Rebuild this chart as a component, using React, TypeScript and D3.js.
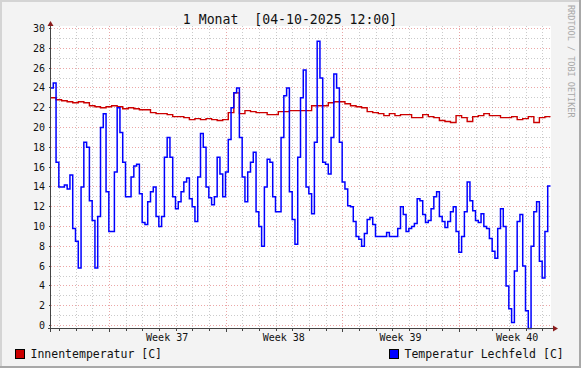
import { useEffect, useRef } from "react";
import {
  select,
  scaleLinear,
  scaleUtc,
  line as d3line,
  curveStepAfter,
  range,
  utcDay,
  utcMonday,
} from "d3";

const HOUR = 3600e3;
const START = Date.UTC(2025, 8, 4, 12);
const END = Date.UTC(2025, 9, 4, 12);

const TITLE = "1 Monat  [04-10-2025 12:00]";
const SIDE_TEXT = "RRDTOOL / TOBI OETIKER";
const weekLabels = ["Week 37", "Week 38", "Week 39", "Week 40"];
const yTicks = range(0, 31, 2);
const seriesNames = ["Innentemperatur [C]", "Temperatur Lechfeld [C]"];
const seriesColors = ["#cc0000", "#0000ff"];

// Innentemperatur, 8h steps from 04-09 12:00
const innenTemp = [
  23.0, 22.8, 22.7, 22.6, 22.5, 22.6, 22.5, 22.2, 22.1, 22.0,
  22.1, 22.2, 22.1, 21.9, 22.0, 21.9, 21.8, 21.8, 21.5, 21.4,
  21.4, 21.3, 21.1, 21.1, 21.0, 20.8, 20.9, 20.8, 20.9, 20.8,
  20.7, 20.8, 21.5, 23.5, 21.4, 21.7, 21.6, 21.5, 21.5, 21.3,
  21.3, 21.6, 21.6, 21.7, 21.7, 21.7, 21.7, 22.2, 22.2, 22.2,
  22.5, 22.6, 22.6, 22.4, 22.2, 22.1, 22.0, 21.6, 21.5, 21.4,
  21.2, 21.4, 21.2, 21.3, 21.3, 21.0, 21.0, 21.3, 21.1, 21.0,
  20.7, 20.6, 20.5, 21.2, 21.0, 20.6, 21.1, 21.2, 21.4, 21.2,
  21.2, 21.0, 21.0, 21.1, 20.8, 20.9, 21.1, 20.5, 21.0, 21.1,
];

// Temperatur Lechfeld, 4h steps from 04-09 12:00
const lechfeldTemp = [
  24.0, 24.5, 16.5, 14.0, 14.0, 14.2, 13.8, 15.2, 9.8, 8.5,
  5.8, 14.0, 18.5, 18.0, 12.6, 10.6, 5.8, 11.0, 20.0, 21.4,
  13.5, 9.5, 9.5, 15.5, 22.0, 19.5, 16.5, 13.0, 13.0, 15.0,
  16.1, 16.3, 13.3, 10.4, 10.2, 12.5, 13.5, 14.0, 11.0, 10.0,
  11.0, 17.0, 19.0, 17.0, 13.0, 11.8, 12.5, 13.5, 14.5, 14.9,
  12.8, 12.0, 10.5, 15.0, 19.4, 18.0, 14.0, 12.9, 12.2, 13.0,
  17.0, 15.3, 13.0, 15.5, 18.8, 22.0, 23.5, 24.0, 19.0, 15.0,
  12.5, 15.5, 16.5, 17.5, 11.5, 10.0, 8.0, 14.0, 16.8, 16.5,
  13.0, 11.5, 11.5, 19.0, 23.2, 24.0, 13.5, 10.7, 8.2, 17.0,
  23.0, 25.8, 14.0, 13.3, 11.3, 18.5, 28.7, 25.0, 16.5, 16.3,
  15.3, 19.0, 25.4, 24.0, 18.5, 14.5, 13.8, 12.1, 12.0, 10.5,
  9.0, 8.7, 8.0, 9.3, 10.7, 10.9, 10.2, 9.0, 9.0, 9.0,
  9.0, 9.4, 9.0, 9.0, 9.0, 9.8, 12.0, 11.2, 9.5, 9.8,
  10.0, 10.3, 12.8, 12.6, 11.2, 10.4, 10.6, 11.8, 13.0, 13.5,
  11.0, 10.5, 9.9, 10.5, 11.5, 12.0, 9.5, 7.4, 9.0, 11.5,
  14.5, 12.6, 11.6, 10.6, 10.4, 11.3, 10.0, 9.8, 8.8, 7.5,
  6.8, 9.8, 11.8, 10.0, 4.0, 1.7, 0.3, 5.5, 10.5, 11.2,
  6.0, 1.5, -0.3, 8.0, 11.5, 12.5, 6.5, 4.8, 9.5, 14.1,
];

const W = 581;
const H = 368;
const MONO = "'DejaVu Sans Mono', monospace";

function toSteps(values: number[], stepHours: number): [number, number][] {
  const pts: [number, number][] = values.map((v, i) => [
    START + i * stepHours * HOUR,
    v,
  ]);
  pts.push([END, values[values.length - 1]]);
  return pts;
}

export default function App() {
  const svgRef = useRef<SVGSVGElement>(null);

  useEffect(() => {
    const svg = select(svgRef.current);
    svg.selectAll("*").remove();

    const x = scaleUtc()
      .domain([new Date(START), new Date(END)])
      .range([50.5, 550.5]);
    const y = scaleLinear().domain([0, 30]).range([325.5, 28.5]);
    const canvasTop = 26;
    const axisY = 328.5;
    const left = 50.5;
    const right = 551;

    // background + shading frame
    svg.append("rect").attr("width", W).attr("height", H).attr("fill", "#f3f3f3");
    svg.append("rect").attr("x", 0).attr("y", 0).attr("width", W).attr("height", 2).attr("fill", "#d4d4d4");
    svg.append("rect").attr("x", 0).attr("y", 0).attr("width", 2).attr("height", H).attr("fill", "#d4d4d4");
    svg.append("rect").attr("x", 0).attr("y", H - 2).attr("width", W).attr("height", 2).attr("fill", "#a8a8a8");
    svg.append("rect").attr("x", W - 2).attr("y", 0).attr("width", 2).attr("height", H).attr("fill", "#a8a8a8");

    // canvas
    svg
      .append("rect")
      .attr("x", left)
      .attr("y", canvasTop)
      .attr("width", right - left)
      .attr("height", axisY - canvasTop)
      .attr("fill", "#ffffff");

    const grid = svg.append("g").attr("shape-rendering", "crispEdges");

    // --- horizontal grid ---
    range(0, 31, 1).forEach((v) => {
      const major = v % 2 === 0;
      grid
        .append("line")
        .attr("x1", left)
        .attr("x2", right)
        .attr("y1", y(v))
        .attr("y2", y(v))
        .attr("stroke", major ? "rgba(210,60,60,0.45)" : "rgba(140,140,140,0.45)")
        .attr("stroke-dasharray", "1,2");
    });

    // --- vertical grid ---
    const days = utcDay.range(new Date(START), new Date(END));
    const mondays = utcMonday.range(new Date(START), new Date(END));
    days.forEach((d) => {
      const major = d.getUTCDay() === 1;
      grid
        .append("line")
        .attr("x1", Math.round(x(d)) + 0.5)
        .attr("x2", Math.round(x(d)) + 0.5)
        .attr("y1", canvasTop)
        .attr("y2", axisY)
        .attr("stroke", major ? "rgba(210,60,60,0.45)" : "rgba(140,140,140,0.45)")
        .attr("stroke-dasharray", "1,2");
    });

    // --- series ---
    const lineGen = d3line<[number, number]>()
      .x((d) => x(new Date(d[0])))
      .y((d) => y(d[1]))
      .curve(curveStepAfter);

    svg
      .append("path")
      .datum(toSteps(innenTemp, 8))
      .attr("fill", "none")
      .attr("stroke", seriesColors[0])
      .attr("stroke-width", 1.4)
      .attr("d", lineGen);

    svg
      .append("path")
      .datum(toSteps(lechfeldTemp, 4))
      .attr("fill", "none")
      .attr("stroke", seriesColors[1])
      .attr("stroke-width", 1.5)
      .attr("d", lineGen);

    // --- axes ---
    const axis = svg.append("g").attr("shape-rendering", "crispEdges");
    axis
      .append("line")
      .attr("x1", left)
      .attr("x2", left)
      .attr("y1", axisY + 3)
      .attr("y2", 25)
      .attr("stroke", "#444");
    axis
      .append("line")
      .attr("x1", left - 3)
      .attr("x2", 553)
      .attr("y1", axisY)
      .attr("y2", axisY)
      .attr("stroke", "#444");
    yTicks.forEach((v) => {
      axis
        .append("line")
        .attr("x1", left - 2)
        .attr("x2", left)
        .attr("y1", y(v))
        .attr("y2", y(v))
        .attr("stroke", "#444");
    });
    days.forEach((d) => {
      const xx = Math.round(x(d)) + 0.5;
      axis
        .append("line")
        .attr("x1", xx)
        .attr("x2", xx)
        .attr("y1", axisY)
        .attr("y2", axisY + (d.getUTCDay() === 1 ? 3 : 2))
        .attr("stroke", "#444");
    });

    // arrows
    svg
      .append("path")
      .attr("d", `M${left},21 L${left + 3},26 L${left - 3},26 Z`)
      .attr("fill", "#8b1c1c");
    svg
      .append("path")
      .attr("d", `M558,${axisY} L553,${axisY - 3} L553,${axisY + 3} Z`)
      .attr("fill", "#8b1c1c");

    // --- y labels ---
    yTicks.forEach((v) => {
      svg
        .append("text")
        .attr("x", 45)
        .attr("y", y(v) + 3.5)
        .attr("text-anchor", "end")
        .attr("font-family", MONO)
        .attr("font-size", 10)
        .attr("fill", "#111")
        .text(`${v}`);
    });

    // --- week labels ---
    mondays.forEach((m, i) => {
      svg
        .append("text")
        .attr("x", x(new Date(m.getTime() + 3.5 * 24 * HOUR)))
        .attr("y", 341)
        .attr("text-anchor", "middle")
        .attr("font-family", MONO)
        .attr("font-size", 10)
        .attr("fill", "#111")
        .text(weekLabels[i]);
    });

    // --- title ---
    svg
      .append("text")
      .attr("x", 290)
      .attr("y", 24)
      .attr("text-anchor", "middle")
      .attr("font-family", MONO)
      .attr("font-size", 13.2)
      .attr("fill", "#111")
      .style("white-space", "pre")
      .text(TITLE);

    // --- side watermark ---
    svg
      .append("text")
      .attr("transform", "translate(568,5) rotate(90)")
      .attr("font-family", MONO)
      .attr("font-size", 8.5)
      .attr("fill", "#a8a8a8")
      .text(SIDE_TEXT);

    // --- legend ---
    const legendX = [15, 389];
    seriesNames.forEach((name, i) => {
      svg
        .append("rect")
        .attr("x", legendX[i] + 0.5)
        .attr("y", 349.5)
        .attr("width", 9)
        .attr("height", 9)
        .attr("fill", seriesColors[i])
        .attr("stroke", "#000")
        .attr("shape-rendering", "crispEdges");
      svg
        .append("text")
        .attr("x", legendX[i] + 15.5)
        .attr("y", 358)
        .attr("font-family", MONO)
        .attr("font-size", 11.5)
        .attr("fill", "#111")
        .text(name);
    });
  }, []);

  return (
    <svg
      ref={svgRef}
      width={W}
      height={H}
      style={{ position: "absolute", left: 0, top: 0, display: "block" }}
    />
  );
}
